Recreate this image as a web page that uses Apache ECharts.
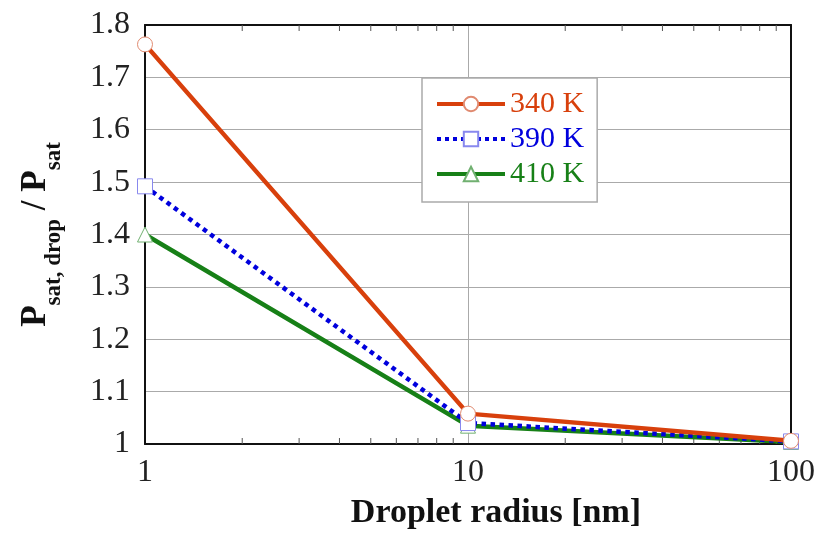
<!DOCTYPE html>
<html><head><meta charset="utf-8">
<script src="https://cdn.jsdelivr.net/npm/echarts@6/dist/echarts.min.js"></script>
<style>html,body{margin:0;padding:0;background:#fff}#c{width:826px;height:535px}</style>
</head><body><div id="c"></div>
<script>
const radius = [1, 10, 100];
const s340 = [1.763, 1.058, 1.006];
const s390 = [1.492, 1.040, 1.005];
const s410 = [1.400, 1.035, 1.004];
const seriesNames = ['340 K', '390 K', '410 K'];
const xTickLabels = ['1', '10', '100'];
const minorTicks = [2,3,4,5,6,7,8,9,20,30,40,50,60,70,80,90];

const font = '"Liberation Serif", "Times New Roman", serif';
const cRed = '#d8400c', cBlue = '#0000dd', cGreen = '#178017';
const chart = echarts.init(document.getElementById('c'));

function pairs(vals){ return radius.map((r,i)=>[r, vals[i]]); }

chart.setOption({
  animation: false,
  grid: {left: 145, right: 35, top: 25, bottom: 86, show: false},
  xAxis: [{
    type: 'log', logBase: 10, min: 1, max: 100,
    axisLine: {show: true, onZero: false, lineStyle: {color: '#111', width: 2}},
    axisTick: {show: false},
    splitLine: {show: true, lineStyle: {color: '#aaa', width: 1}},
    axisLabel: {fontFamily: font, fontSize: 32, color: '#222', margin: 13,
      formatter: v => xTickLabels[Math.round(Math.log10(v))] },
    name: 'Droplet radius [nm]', nameLocation: 'middle', nameGap: 52,
    nameTextStyle: {fontFamily: font, fontSize: 34, fontWeight: 'bold', color: '#111', padding: [0,0,0,56]}
  },{
    type: 'log', logBase: 10, min: 1, max: 100, position: 'top',
    axisLine: {show: true, lineStyle: {color: '#111', width: 2}},
    axisTick: {show: false}, axisLabel: {show: false}, splitLine: {show: false}
  }],
  yAxis: [{
    type: 'value', min: 1, max: 1.8, interval: 0.1,
    axisLine: {show: true, onZero: false, lineStyle: {color: '#111', width: 2}},
    axisTick: {show: false},
    splitLine: {show: true, lineStyle: {color: '#aaa', width: 1}},
    axisLabel: {fontFamily: font, fontSize: 32, color: '#222', margin: 15,
      formatter: v => String(Math.round(v*10)/10)},
    name: '{b|P}{s|sat, drop}{b| / P}{s|sat}', nameLocation: 'middle', nameGap: 92, nameRotate: 90,
    nameTextStyle: {
      rich: {
        b: {fontFamily: font, fontSize: 35, fontWeight: 'bold', color: '#111', lineHeight: 44, verticalAlign: 'bottom'},
        s: {fontFamily: font, fontSize: 23, fontWeight: 'bold', color: '#111', lineHeight: 44, verticalAlign: 'bottom', padding: [0,0,-13,0]}
      }
    }
  },{
    type: 'value', min: 1, max: 1.8, interval: 0.1, position: 'right',
    axisLine: {show: true, lineStyle: {color: '#111', width: 2}},
    axisTick: {show: false}, axisLabel: {show: false}, splitLine: {show: false}
  }],
  legend: {
    orient: 'vertical', left: 422, top: 78, padding: [11, 13, 13, 13],
    backgroundColor: '#fff', borderColor: '#aaa', borderWidth: 1.5,
    itemWidth: 68, itemHeight: 18, itemGap: 5,
    lineStyle: {width: 4},
    textStyle: {fontFamily: font, fontSize: 30},
    data: [
      {name: seriesNames[0], textStyle: {color: cRed}},
      {name: seriesNames[1], textStyle: {color: cBlue}},
      {name: seriesNames[2], textStyle: {color: cGreen}}
    ]
  },
  series: [
    {type: 'custom', silent: true, z: 1,
     data: minorTicks.map(v=>[v]),
     renderItem: function(params, api){
       const v = api.value(0);
       const b = api.coord([v, 1]);
       const t = api.coord([v, 1.8]);
       return {type: 'group', children: [
         {type: 'line', shape: {x1: b[0], y1: b[1], x2: b[0], y2: b[1]-6}, style: {stroke: '#555', lineWidth: 1}},
         {type: 'line', shape: {x1: t[0], y1: t[1], x2: t[0], y2: t[1]+6}, style: {stroke: '#555', lineWidth: 1}}
       ]};
     },
     encode: {x: 0}
    },
    {name: seriesNames[0], type: 'line', data: pairs(s340), z: 4,
     symbol: 'circle', symbolSize: 15,
     lineStyle: {color: cRed, width: 4.5}, itemStyle: {color: '#fff', borderColor: '#e08a70', borderWidth: 1}},
    {name: seriesNames[1], type: 'line', data: pairs(s390), z: 3,
     symbol: 'rect', symbolSize: 15,
     lineStyle: {color: cBlue, width: 4.5, type: 'dotted'}, itemStyle: {color: '#fff', borderColor: '#8888ee', borderWidth: 1}},
    {name: seriesNames[2], type: 'line', data: pairs(s410), z: 2,
     symbol: 'triangle', symbolSize: 15,
     lineStyle: {color: cGreen, width: 4.5}, itemStyle: {color: '#fff', borderColor: '#70b070', borderWidth: 1}}
  ]
});
</script>
</body></html>
